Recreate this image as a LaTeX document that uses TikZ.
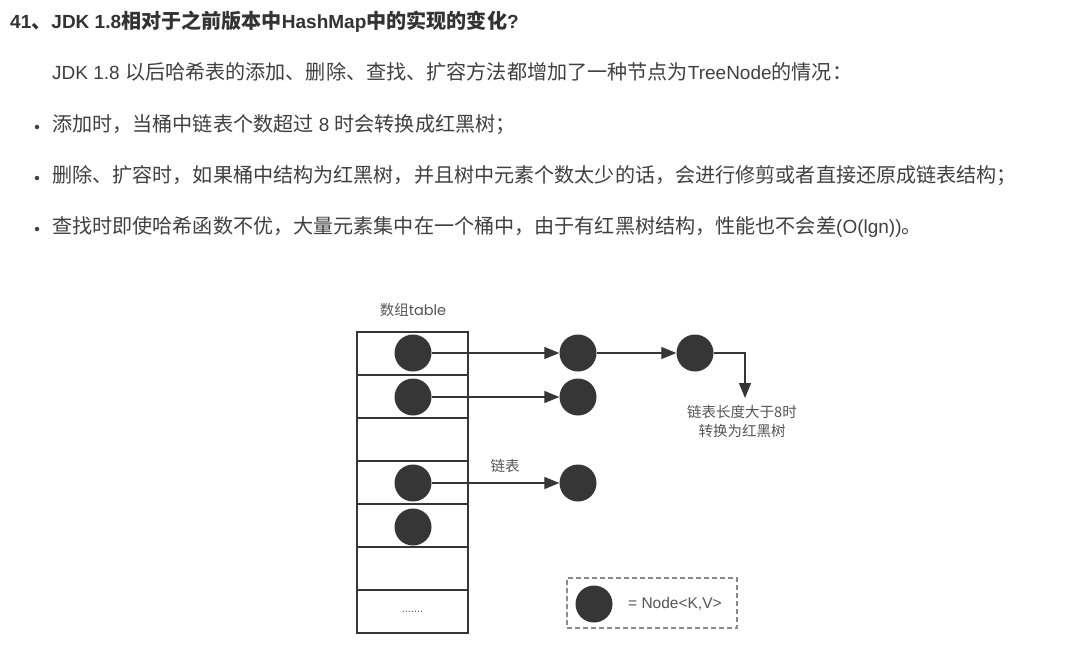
\documentclass[tikz,border=0pt]{standalone}
\usepackage{fontspec}
\setmainfont{Liberation Sans}
\newfontfamily\cjk[Scale=1.058]{Noto Sans CJK SC}
\newfontfamily\cjkfig{Noto Sans CJK SC}
\newfontfamily\roundfont{Poppins}
\usepackage{tikz}
\usetikzlibrary{arrows.meta,positioning}
\definecolor{colortext}{HTML}{404040}
\definecolor{colortitle}{HTML}{333333}
\definecolor{colorfig}{HTML}{363636}
\definecolor{colorlbl}{HTML}{555555}
\definecolor{colorleg}{HTML}{8A8A8A}
\newcommand\zh[1]{{\cjk #1}}
\tikzset{
  textline/.style={anchor=west, inner sep=0pt, text=colortext, font=\fontsize{19}{23}\selectfont},
  headline/.style={textline, text=colortitle, font=\fontsize{19}{23}\selectfont\bfseries},
  bulletdot/.style={circle, fill=colortext, minimum size=4.5pt, inner sep=0pt},
  cell/.style={draw=colorfig, line width=2pt, minimum width=111pt, minimum height=43pt, inner sep=0pt},
  kv/.style={circle, fill=colorfig, minimum size=37pt, inner sep=0pt},
  lbl/.style={text=colorlbl, font=\cjkfig\fontsize{14.5}{19}\selectfont, inner sep=0pt, align=center},
  legendbox/.style={draw=colorleg, line width=1.2pt, dash pattern=on 5pt off 3pt, minimum width=170pt, minimum height=50pt, inner sep=0pt},
  edgenext/.style={colorfig, line width=1.3pt, -{Triangle[length=15pt,width=12pt]}}
}

\begin{document}
\begin{tikzpicture}[x=1pt,y=-1pt]
\fill[white] (0,0) rectangle (1081,654);
\useasboundingbox (0,0) rectangle (1081,654);

\node[headline] (head) at (10,22)
{41\zh{、}JDK 1.8\zh{相对于之前版本中}HashMap\zh{中的实现的变化}?};

\node[textline] (intro) at (52,72)
{JDK 1.8 \zh{以后哈希表的添加、删除、查找、扩容方法都增加了一种节点为}TreeNode\zh{的情况：}};

\node[bulletdot] (dot1) at (37,127) {};
\node[textline] (add) at (52,125)
{\zh{添加时，当桶中链表个数超过} 8 \zh{时会转换成红黑树；}};

\node[bulletdot] (dot2) at (37,178) {};
\node[textline] (del) at (52,176)
{\zh{删除、扩容时，如果桶中结构为红黑树，并且树中元素个数太少的话，会进行修剪或者直接还原成链表结构；}};

\node[bulletdot] (dot3) at (37,229) {};
\node[textline] (find) at (52,227)
{\zh{查找时即使哈希函数不优，大量元素集中在一个桶中，由于有红黑树结构，性能也不会差}(O(lgn))\zh{。}};

\node[lbl] (tablename) at (413,310) {数组{\roundfont table}};

\node[cell] (cell1) at (412.5,353.5) {};
\node[cell] (cell2) at (412.5,396.5) {};
\node[cell] (cell3) at (412.5,439.5) {};
\node[cell] (cell4) at (412.5,482.5) {};
\node[cell] (cell5) at (412.5,525.5) {};
\node[cell] (cell6) at (412.5,568.5) {};
\node[cell] (cell7) at (412.5,611.5) {\color{colorlbl}\fontsize{11}{12}\selectfont .......};

\node[kv] (b1) at (413,353) {};
\node[kv] (b2) at (413,397) {};
\node[kv] (b4) at (413,483) {};
\node[kv] (b5) at (413,527) {};

\node[kv] (n11) at (578,353) {};
\node[kv] (n12) at (695,353) {};
\node[kv] (n21) at (578,397) {};
\node[kv] (n41) at (578,483) {};

\coordinate (treeify) at (745,398);
\node[lbl] (treeinfo) at (742,421) {链表长度大于8时\\转换为红黑树};
\node[lbl] (listname) at (505,466) {链表};

\draw[edgenext] (b1) -- (n11);
\draw[edgenext] (n11) -- (n12);
\draw[edgenext] (b2) -- (n21);
\draw[edgenext] (b4) -- (n41);
\draw[edgenext] (n12.east) -| (treeify);

\node[legendbox] (legend) at (652,603) {};
\node[kv] (legkv) at (594,604) {};
\node[anchor=west, inner sep=0pt, text=colorlbl, font=\fontsize{15.5}{18}\selectfont]
(legtext) at (628,604) {= Node<K,V>};
\end{tikzpicture}
\end{document}
